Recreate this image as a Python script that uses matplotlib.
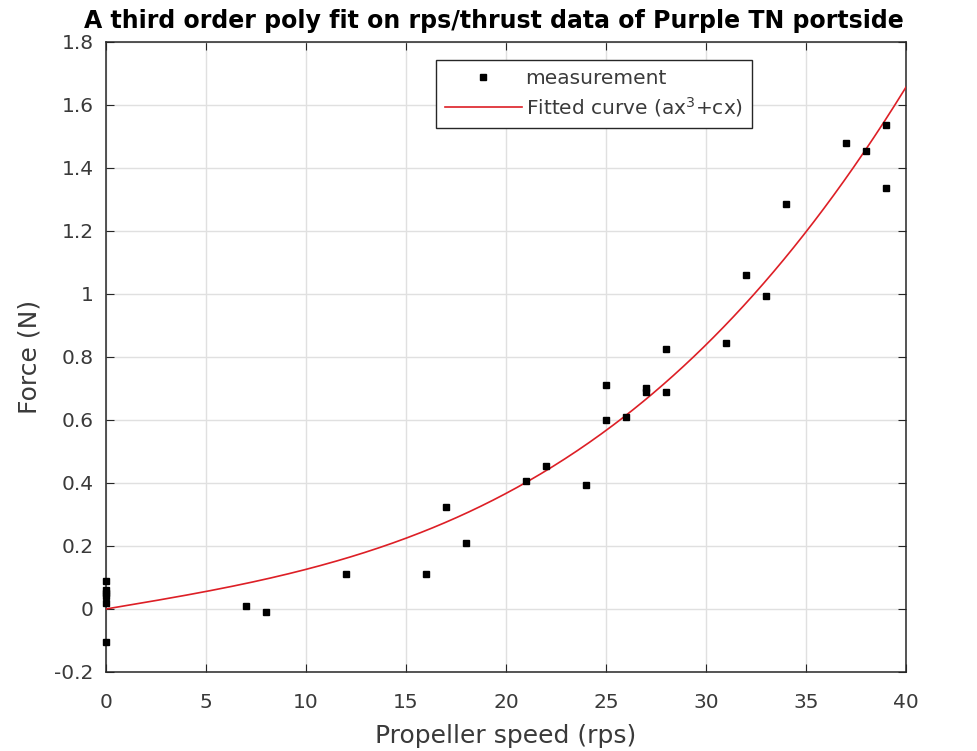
import numpy as np
import matplotlib.pyplot as plt

# measured propeller speed (rps) and thrust (N)
rps = [0, 0, 0, 0, 0, 0, 7, 8, 12, 16, 17, 18, 21, 22, 24, 25, 25, 26, 27, 27,
       28, 28, 31, 32, 33, 34, 37, 38, 39, 39]
force = [0.09, 0.06, 0.05, 0.04, 0.02, -0.105, 0.01, -0.01, 0.11, 0.11, 0.325, 0.21,
         0.405, 0.455, 0.395, 0.71, 0.60, 0.61, 0.70, 0.69, 0.825, 0.69, 0.845,
         1.06, 0.995, 1.285, 1.48, 1.455, 1.535, 1.335]

x = np.array(rps, dtype=float)
y = np.array(force)

# fit y = a*x^3 + c*x
A = np.column_stack([x**3, x])
(a, c), *_ = np.linalg.lstsq(A, y, rcond=None)
xf = np.linspace(0, 40, 400)
yf = a * xf**3 + c * xf

fig = plt.figure(figsize=(9.77, 7.51), dpi=100)
ax = fig.add_axes([0.1085, 0.1052, 0.8188, 0.8389])

ax.plot(x, y, 's', color='black', markersize=4.3, label='measurement', clip_on=False, zorder=4)
ax.plot(xf, yf, '-', color='#dd1f26', linewidth=1.2, label='Fitted curve (ax$^3$+cx)', zorder=3)

ax.set_xlim(0, 40)
ax.set_ylim(-0.2, 1.8)
ax.set_xticks(np.arange(0, 41, 5))
ax.set_yticks(np.arange(-0.2, 1.81, 0.2))
ax.set_yticklabels(['-0.2', '0', '0.2', '0.4', '0.6', '0.8', '1', '1.2', '1.4', '1.6', '1.8'])
ax.grid(True, color='#e0e0e0', linewidth=1.0)
ax.set_axisbelow(True)
ax.tick_params(direction='in', labelsize=14.5, labelcolor='#3a3a3a', colors='#262626',
               top=True, right=True, length=6)
ax.tick_params(axis='x', pad=15)
ax.tick_params(axis='y', pad=9)
for s in ax.spines.values():
    s.set_color('#262626')
    s.set_linewidth(1.1)

ax.set_xlabel('Propeller speed (rps)', fontsize=18, color='#3a3a3a', labelpad=9)
ax.set_ylabel('Force (N)', fontsize=18, color='#3a3a3a', labelpad=9)
ax.set_title('A third order poly fit on rps/thrust data of Purple TN portside',
             fontsize=17, fontweight='bold', pad=10, x=0.485)

leg = ax.legend(loc='upper left', bbox_to_anchor=(0.4125, 0.972), fontsize=14.5,
                fancybox=False, edgecolor='#262626', framealpha=1,
                handlelength=3.8, handletextpad=0.2, borderpad=0.45, labelspacing=0.35,
                borderaxespad=0)
leg.get_frame().set_linewidth(1.0)
for t in leg.get_texts():
    t.set_color('#3a3a3a')

fig.savefig('out.png', dpi=100)
